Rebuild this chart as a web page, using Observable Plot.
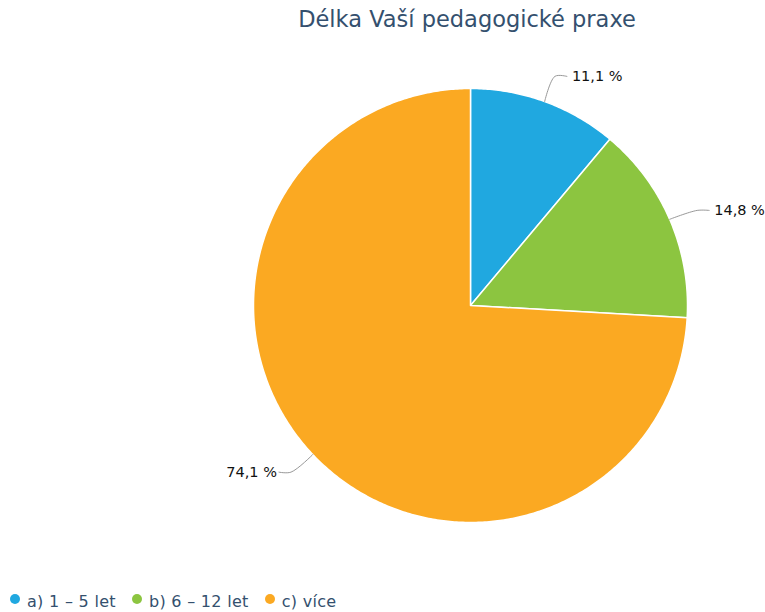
<!DOCTYPE html>
<html><head><meta charset="utf-8">
<script src="https://cdn.jsdelivr.net/npm/d3@7"></script>
<script src="https://cdn.jsdelivr.net/npm/@observablehq/plot@0.6"></script>
<style>
body{margin:0;background:#fff;font-family:"DejaVu Sans",sans-serif;}
#wrap{position:relative;width:765px;height:612px;overflow:hidden;}
#title{position:absolute;top:6px;left:167px;width:600px;text-align:center;font-size:22.5px;color:#34506e;}
#chart{position:absolute;top:0;left:0;}
#legend{position:absolute;left:10px;top:592px;font-size:16px;letter-spacing:0.3px;color:#34506e;display:flex;gap:16px;}
#legend span.i{display:inline-flex;align-items:center;}
#legend span.d{display:inline-block;width:10px;height:10px;border-radius:50%;margin-right:7px;transform:translateY(-3px);}
</style></head><body>
<div id="wrap">
<div id="title">Délka Vaší pedagogické praxe</div>
<div id="chart"></div>
<div id="legend"></div>
</div>
<script>
const categories = ["a) 1 – 5 let", "b) 6 – 12 let", "c) více"];
const values = [11.1, 14.8, 74.1];
const labels = ["11,1 %", "14,8 %", "74,1 %"];
const colors = ["#20a8e0", "#8cc540", "#fba922"];

const pie = d3.pie().sort(null).value(d => d.value)(categories.map((c, i) => ({cat: c, value: values[i], label: labels[i]})));

// slice outlines as polygons in a unit-circle coordinate system
const slicePts = [];
pie.forEach(s => {
  slicePts.push({cat: s.data.cat, x: 0, y: 0});
  const n = Math.max(2, Math.ceil((s.endAngle - s.startAngle) / 0.01));
  for (let k = 0; k <= n; k++) {
    const a = s.startAngle + (s.endAngle - s.startAngle) * k / n;
    slicePts.push({cat: s.data.cat, x: Math.sin(a), y: Math.cos(a)});
  }
  slicePts.push({cat: s.data.cat, x: 0, y: 0});
});

// connectors and labels
const R = 217, dist = 30 / R;
const conn = [], lab = [];
pie.forEach(s => {
  const a = (s.startAngle + s.endAngle) / 2;
  const side = Math.sin(a) >= 0 ? 1 : -1;
  const p1 = {x: Math.sin(a), y: Math.cos(a)};
  const p2 = {x: Math.sin(a) * (1 + dist), y: Math.cos(a) * (1 + dist) - side * 3 / R};
  const p3 = {x: p2.x + side * 12 / R, y: p2.y};
  conn.push({cat: s.data.cat, ...p1}, {cat: s.data.cat, ...p2}, {cat: s.data.cat, ...p3});
  lab.push({x: p3.x + side * (side > 0 ? 5 : 2) / R, y: p3.y, text: s.data.label, anchor: side > 0 ? "start" : "end"});
});

const plot = Plot.plot({
  width: 765, height: 585,
  margin: 0,
  x: {domain: [-1, 1], range: [253, 687], axis: null},
  y: {domain: [-1, 1], range: [522, 88], axis: null},
  color: {domain: categories, range: colors},
  marks: [
    Plot.line(slicePts, {x: "x", y: "y", z: "cat", fill: "cat", stroke: "#fff", strokeWidth: 1.5, strokeLinejoin: "round", curve: "linear"}),
    Plot.line(conn, {x: "x", y: "y", z: "cat", stroke: "#999", strokeWidth: 1, curve: "catmull-rom"}),
    Plot.text(lab.filter(d => d.anchor === "start"), {x: "x", y: "y", text: "text", textAnchor: "start", fontSize: 14.5, fill: "#111", fontFamily: "DejaVu Sans"}),
    Plot.text(lab.filter(d => d.anchor === "end"), {x: "x", y: "y", text: "text", textAnchor: "end", fontSize: 14.5, fill: "#111", fontFamily: "DejaVu Sans"})
  ]
});
document.getElementById("chart").appendChild(plot);

const leg = document.getElementById("legend");
categories.forEach((c, i) => {
  const s = document.createElement("span");
  s.className = "i";
  s.innerHTML = `<span class="d" style="background:${colors[i]}"></span>${c}`;
  leg.appendChild(s);
});
</script>
</body></html>
